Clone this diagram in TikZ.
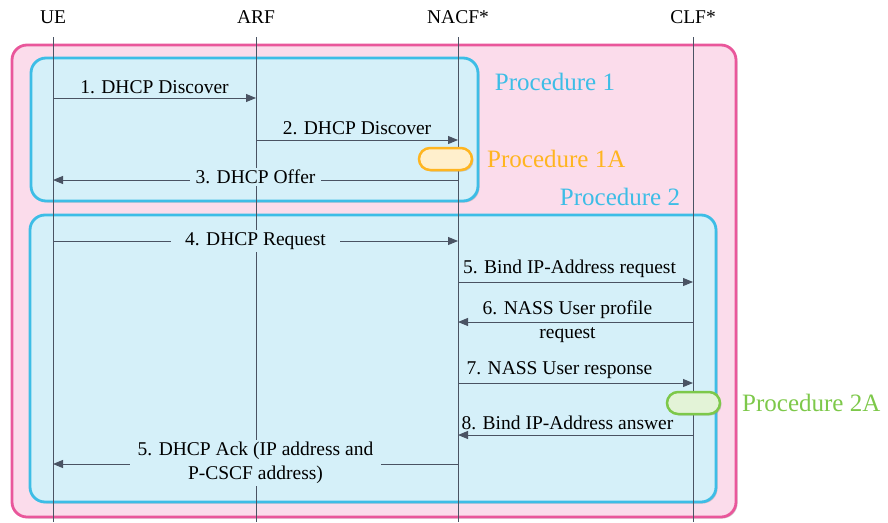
\documentclass[tikz,border=0pt]{standalone}
\usepackage{fontspec}
\setmainfont{Liberation Serif}
\usepackage{xcolor}
\usetikzlibrary{arrows.meta,shadows}

\definecolor{pinkline}{HTML}{E9579B}
\definecolor{pinkfill}{HTML}{FBDCEB}
\definecolor{blueline}{HTML}{3DBDE6}
\definecolor{bluefill}{HTML}{D5F0F9}
\definecolor{lifegray}{HTML}{4A5363}
\definecolor{yelline}{HTML}{FFB520}
\definecolor{yelfill}{HTML}{FFEFCC}
\definecolor{grnline}{HTML}{7DC84A}
\definecolor{grnfill}{HTML}{E3F3D7}

\begin{document}
\begin{tikzpicture}[x=1pt,y=-1pt,
  every node/.style={font=\fontsize{19.5}{24}\selectfont, inner sep=2pt},
  box/.style={rounded corners=15pt, line width=2.8pt,
    drop shadow={shadow xshift=1.5pt, shadow yshift=-1.5pt, opacity=0.35}},
  life/.style={draw=lifegray, line width=1pt},
  msg/.style={draw=lifegray, line width=1pt, -{Triangle[length=10pt,width=8pt]}},
  pill/.style={rounded corners=11pt, line width=2.5pt, minimum width=53pt,
    minimum height=22pt, drop shadow={shadow xshift=1.5pt, shadow yshift=-1.5pt, opacity=0.35}},
  proclabel/.style={font=\fontsize{25}{30}\selectfont}]
  \useasboundingbox (0,0) rectangle (888,522);

  % procedure boxes
  \draw[box, draw=pinkline, fill=pinkfill] (12,45) rectangle (736,517);
  \draw[box, draw=blueline, fill=bluefill] (31,58) rectangle (478,201);
  \draw[box, draw=blueline, fill=bluefill] (30,215) rectangle (716,502);
  \node[proclabel, text=blueline] (lab1) at (555,82) {Procedure 1};
  \node[proclabel, text=blueline] (lab2) at (620,197) {Procedure 2};

  % entities and lifelines
  \node (ue) at (53,17) {UE};
  \node (arf) at (256,17) {ARF};
  \node (nacf) at (458,17) {NACF*};
  \node (clf) at (693,17) {CLF*};
  \coordinate (top) at (0,37);
  \coordinate (bot) at (0,522);
  \foreach \e in {ue,arf,nacf,clf}
    \draw[life] (\e |- top) -- (\e |- bot);

  % sub-procedures
  \node[pill, draw=yelline, fill=yelfill] (p1a) at (445.5,159) {};
  \node[proclabel, text=yelline, right] (lab1a) at (485,159) {Procedure 1A};
  \node[pill, draw=grnline, fill=grnfill] (p2a) at (693.5,403) {};
  \node[proclabel, text=grnline, right] (lab2a) at (740,403) {Procedure 2A};

  % messages
  \coordinate (m1) at (0,98);
  \coordinate (m2) at (0,140);
  \coordinate (m3) at (0,180);
  \coordinate (m4) at (0,241);
  \coordinate (m5) at (0,282);
  \coordinate (m6) at (0,322);
  \coordinate (m7) at (0,383);
  \coordinate (m8) at (0,435);
  \coordinate (m9) at (0,464);
  \draw[msg] (ue |- m1) -- (arf |- m1) node[midway, above=2pt] {1. DHCP Discover};
  \draw[msg] (arf |- m2) -- (nacf |- m2) node[midway, above=3pt] {2. DHCP Discover};
  \draw[msg] (nacf |- m3) -- (ue |- m3)
    node[midway, fill=bluefill, inner xsep=6pt, yshift=3pt] {3. DHCP Offer};
  \draw[msg] (ue |- m4) -- (nacf |- m4)
    node[midway, fill=bluefill, inner xsep=14pt] {4. DHCP Request};
  \draw[msg] (nacf |- m5) -- (clf |- m5) node[midway, above=2pt, xshift=-6pt] {5. Bind IP-Address request};
  \draw[msg] (clf |- m6) -- (nacf |- m6)
    node[midway, align=center, xshift=-8pt] {6. NASS User profile\\request};
  \draw[msg] (nacf |- m7) -- (clf |- m7) node[midway, above=2pt, xshift=-16pt] {7. NASS User response};
  \draw[msg] (clf |- m8) -- (nacf |- m8) node[midway, above=3pt, xshift=-8pt] {8. Bind IP-Address answer};
  \draw[msg] (nacf |- m9) -- (ue |- m9)
    node[midway, fill=bluefill, align=center, inner xsep=8pt, yshift=1pt]
    {5. DHCP Ack (IP address and\\P-CSCF address)};
\end{tikzpicture}
\end{document}
